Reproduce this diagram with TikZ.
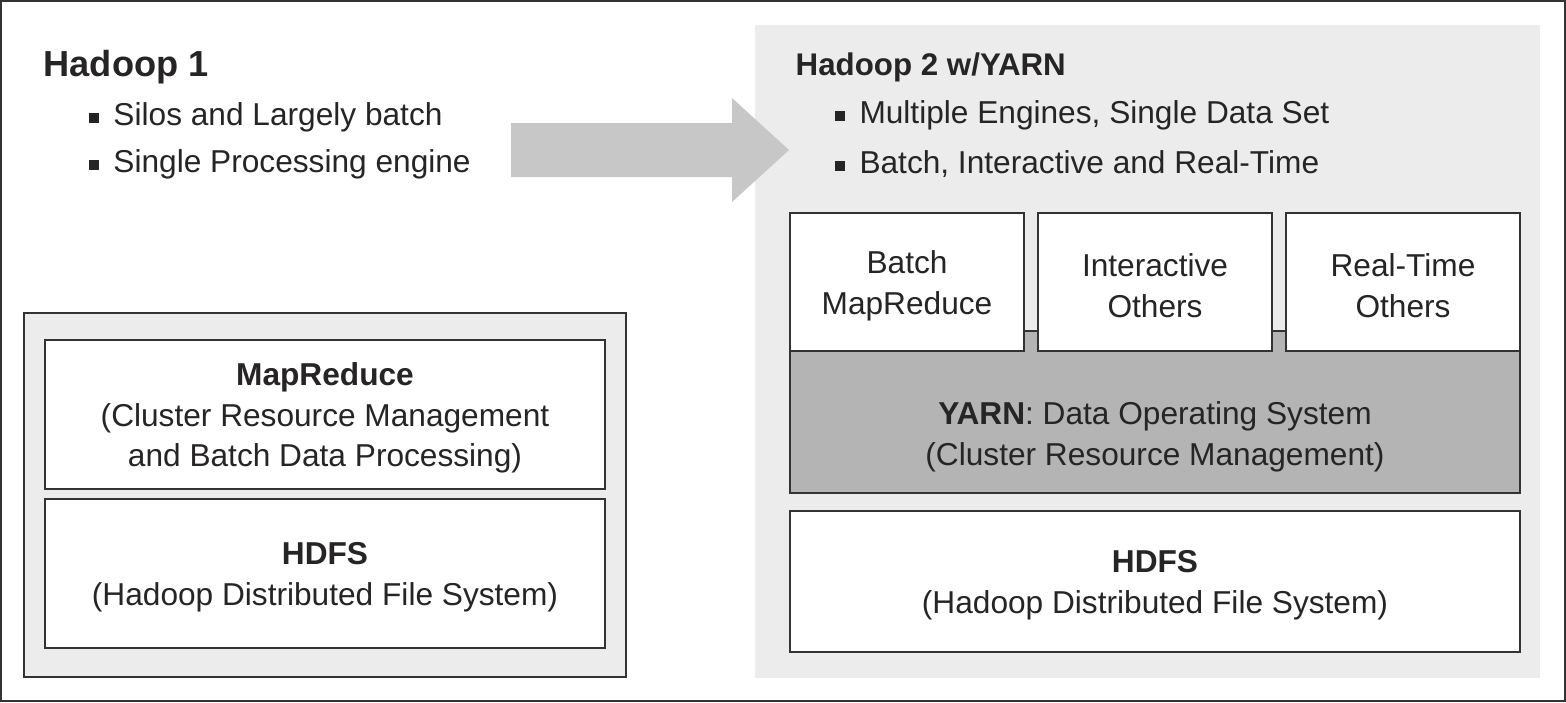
\documentclass[tikz,border=0pt]{standalone}
\usepackage{fontspec}
\setmainfont{Liberation Sans}
\definecolor{ink}{HTML}{262425}
\definecolor{edge}{HTML}{333333}
\definecolor{panelfill}{HTML}{EBECEB}
\definecolor{arrowfill}{HTML}{C6C7C6}
\definecolor{yarnfill}{HTML}{B3B4B3}
\newcommand{\sqbullet}{\rule[0.6pt]{2.85pt}{2.85pt}\hspace{4.2pt}}
\newcommand{\topstrut}{\rule{0pt}{8.5pt}}
\tikzset{
  panel/.style   = {rectangle, draw=edge, line width=0.6pt,
                    fill=panelfill, inner sep=0pt},
  layer/.style   = {rectangle, draw=edge, line width=0.6pt,
                    fill=white, inner sep=0pt, align=center, text=ink,
                    font=\fontsize{9}{11.6}\selectfont},
  heading/.style = {anchor=base west, inner sep=0pt, text=ink,
                    font=\bfseries\fontsize{10.3}{12}\selectfont},
  point/.style   = {anchor=base west, inner sep=0pt, text=ink,
                    font=\fontsize{9}{11}\selectfont}
}

\begin{document}
\begin{tikzpicture}[x=0.01cm, y=-0.01cm]
  \useasboundingbox (0,0) rectangle (1566,702);
  \node [rectangle, draw=edge, line width=0.6pt, inner sep=0pt,
         minimum width=15.63cm, minimum height=6.99cm] (frame) at (783,351) {};
  \node [panel, draw=none, minimum width=7.85cm, minimum height=6.53cm]
        (newpanel) at (1147.5,351.5) {};
  \fill [arrowfill] (511,123) -- (732,123) -- (732,98) -- (789,150)
        -- (732,202) -- (732,177) -- (511,177) -- cycle;

  \node [heading] (hadoopone) at (43,76) {Hadoop 1};
  \node [point] (silos) at (88,125) {\sqbullet Silos and Largely batch};
  \node [point] (single) at (88,172) {\sqbullet Single Processing engine};
  \node [heading, font=\bfseries\fontsize{8.9}{10}\selectfont]
        (hadooptwo) at (795,75) {Hadoop 2 w/YARN};
  \node [point] (engines) at (834,123) {\sqbullet Multiple Engines, Single Data Set};
  \node [point] (modes) at (834,173) {\sqbullet Batch, Interactive and Real-Time};

  \node [panel, minimum width=6.02cm, minimum height=3.64cm]
        (oldpanel) at (325,495) {};
  \node [layer, minimum width=5.6cm, minimum height=1.49cm] (mapreduce) at (325,414.5)
        {\topstrut\textbf{MapReduce}\\(Cluster Resource Management\\and Batch Data Processing)};
  \node [layer, minimum width=5.6cm, minimum height=1.49cm] (hdfsold) at (325,573.5)
        {\topstrut\textbf{HDFS}\\(Hadoop Distributed File System)};

  \node [layer, fill=yarnfill, minimum width=7.3cm, minimum height=1.62cm]
        (yarn) at (1155,412) {};
  \node [align=center, inner sep=0pt, text=ink, font=\fontsize{9}{11.6}\selectfont]
        (yarntext) at (1155,437)
        {\textbf{YARN}: Data Operating System\\(Cluster Resource Management)};
  \node [layer, minimum width=2.34cm, minimum height=1.38cm] (batch) at (907,282)
        {\topstrut Batch\\MapReduce};
  \node [layer, minimum width=2.34cm, minimum height=1.38cm] (interactive) at (1155,282)
        {\topstrut Interactive\\Others};
  \node [layer, minimum width=2.34cm, minimum height=1.38cm] (realtime) at (1403,282)
        {\topstrut Real-Time\\Others};
  \node [layer, minimum width=7.3cm, minimum height=1.41cm] (hdfsnew) at (1155,581.5)
        {\topstrut\textbf{HDFS}\\(Hadoop Distributed File System)};
\end{tikzpicture}
\end{document}
